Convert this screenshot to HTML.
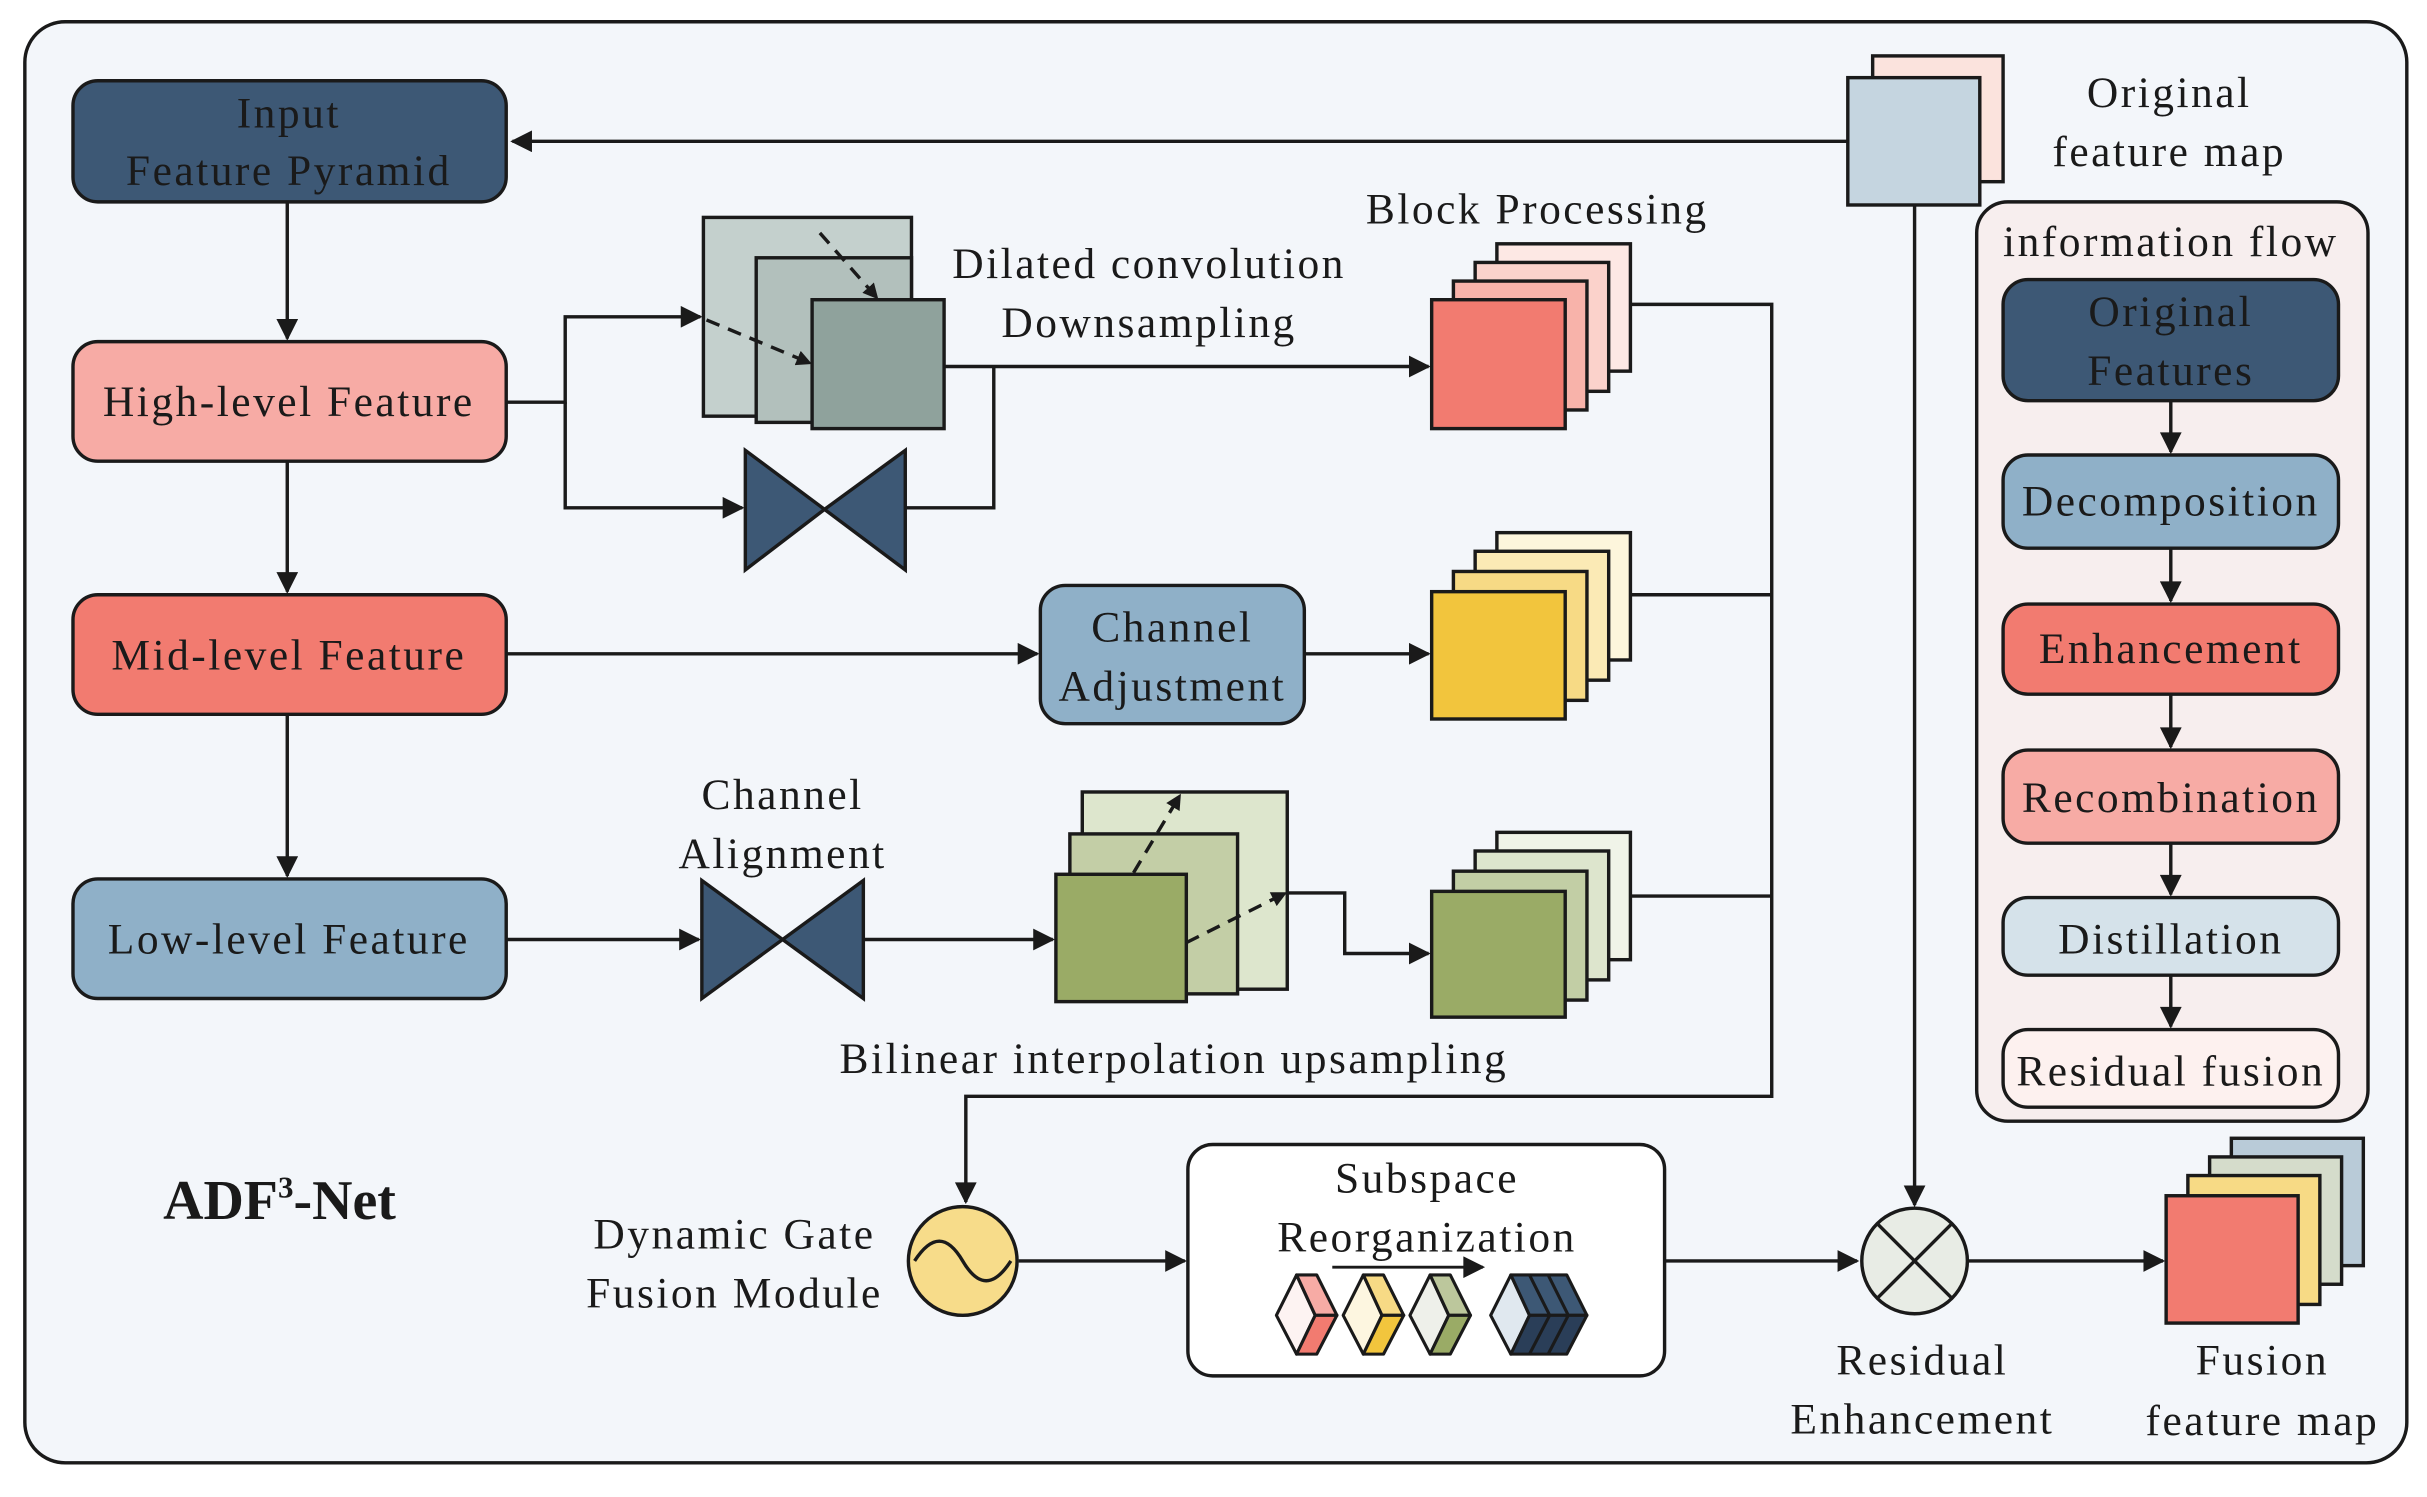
<!DOCTYPE html>
<html><head><meta charset="utf-8"><style>
html,body{margin:0;padding:0;background:#fff;}
svg{display:block;}
text{font-family:"Liberation Serif",serif;font-size:28px;letter-spacing:1.6px;fill:#1a1a1a;text-anchor:middle;}
</style></head><body>
<svg width="2427" height="1497" viewBox="0 0 1563 964" preserveAspectRatio="none" xmlns="http://www.w3.org/2000/svg">
<defs>
<marker id="a" markerWidth="10" markerHeight="10" refX="9" refY="5" orient="auto" markerUnits="userSpaceOnUse" viewBox="0 0 10 10"><path d="M0,0 L10,5 L0,10 z" fill="#1a1a1a"/></marker>
<marker id="A" viewBox="0 0 10 10" refX="9" refY="5" markerWidth="18" markerHeight="14" orient="auto" markerUnits="userSpaceOnUse"><path d="M0,0 L10,5 L0,10 z" fill="#1a1a1a"/></marker>
</defs>
<g stroke="#1a1a1a" stroke-width="2.2" fill="none">
<rect x="16" y="14" width="1534" height="928" rx="26" fill="#f3f6fa"/>
<rect x="47" y="52" width="279" height="78" rx="16" fill="#3d5875"/>
<rect x="47" y="220" width="279" height="77" rx="16" fill="#f7aba5"/>
<rect x="47" y="383" width="279" height="77" rx="16" fill="#f27b70"/>
<rect x="47" y="566" width="279" height="77" rx="16" fill="#8fb0c8"/>
<path d="M185,130 V218" marker-end="url(#A)"/>
<path d="M185,297 V381" marker-end="url(#A)"/>
<path d="M185,460 V564" marker-end="url(#A)"/>
<path d="M1190,91 H330" marker-end="url(#A)"/>
<path d="M326,259 H364 V204 H451" marker-end="url(#A)"/>
<path d="M364,259 V327 H478" marker-end="url(#A)"/>
<rect x="453" y="140" width="134" height="128" fill="#c4d0cd"/>
<rect x="487" y="166" width="100" height="106" fill="#b2c0bc"/>
<rect x="523" y="193" width="85" height="83" fill="#8fa29c"/>
<path d="M528,150 L565,192" stroke-dasharray="9,6" marker-end="url(#a)"/>
<path d="M455,206 L522,234" stroke-dasharray="9,6" marker-end="url(#a)"/>
<path d="M480,290 L531,328 L480,367 Z M583,290 L531,328 L583,367 Z" fill="#3d5875"/>
<path d="M608,236 H920" marker-end="url(#A)"/>
<path d="M583,327 H640 V236"/>
<rect x="964" y="157" width="86" height="82" fill="#fde8e4"/>
<rect x="950" y="169" width="86" height="83" fill="#fbd2cb"/>
<rect x="936" y="181" width="86" height="83" fill="#f8b3aa"/>
<rect x="922" y="193" width="86" height="83" fill="#f27b70"/>
<path d="M326,421 H668" marker-end="url(#A)"/>
<rect x="670" y="377" width="170" height="89" rx="16" fill="#8fb0c8"/>
<path d="M840,421 H920" marker-end="url(#A)"/>
<rect x="964" y="343" width="86" height="82" fill="#fdf6dc"/>
<rect x="950" y="355" width="86" height="83" fill="#fbeab5"/>
<rect x="936" y="368" width="86" height="83" fill="#f7da85"/>
<rect x="922" y="381" width="86" height="82" fill="#f2c53d"/>
<path d="M326,605 H450" marker-end="url(#A)"/>
<path d="M452,567 L504,605 L452,643 Z M556,567 L504,605 L556,643 Z" fill="#3d5875"/>
<path d="M556,605 H678" marker-end="url(#A)"/>
<rect x="697" y="510" width="132" height="127" fill="#dde6cd"/>
<rect x="689" y="537" width="108" height="103" fill="#c3cea6"/>
<rect x="680" y="563" width="84" height="82" fill="#9aab66"/>
<path d="M730,562 L760,512" stroke-dasharray="9,6" marker-end="url(#a)"/>
<path d="M764,607 L828,575" stroke-dasharray="9,6" marker-end="url(#a)"/>
<path d="M829,575 H866 V614 H920" marker-end="url(#A)"/>
<rect x="964" y="536" width="86" height="82" fill="#f0f3e8"/>
<rect x="950" y="548" width="86" height="83" fill="#dde5cd"/>
<rect x="936" y="561" width="86" height="83" fill="#c2cea5"/>
<rect x="922" y="574" width="86" height="81" fill="#9aab66"/>
<path d="M1050,196 H1141 V706 H622 V774" marker-end="url(#A)"/>
<path d="M1050,383 H1141 M1050,577 H1141"/>
<circle cx="620" cy="812" r="35" fill="#f7dc8a"/>
<path d="M589,812 C600,795 610,795 620,812 C630,829 640,829 651,812"/>
<path d="M656,812 H763" marker-end="url(#A)"/>
<rect x="765" y="737" width="307" height="149" rx="16" fill="#fff"/>
<path d="M858,816 H955" marker-end="url(#A)" stroke-width="1.8"/>
<g stroke-width="2" stroke-linejoin="round">
<g>
<path d="M822,847 L835,821 L847,847 L835,872 Z" fill="#fdf3f2"/>
<path d="M835,821 L848,821 L861,847 L847,847 Z" fill="#f7aba5"/>
<path d="M847,847 L861,847 L848,872 L835,872 Z" fill="#f27b70"/>
</g>
<g transform="translate(43,0)">
<path d="M822,847 L835,821 L847,847 L835,872 Z" fill="#fdf6e0"/>
<path d="M835,821 L848,821 L861,847 L847,847 Z" fill="#f7da85"/>
<path d="M847,847 L861,847 L848,872 L835,872 Z" fill="#f2c53d"/>
</g>
<g transform="translate(86,0)">
<path d="M822,847 L835,821 L847,847 L835,872 Z" fill="#eef0ea"/>
<path d="M835,821 L848,821 L861,847 L847,847 Z" fill="#bcc79c"/>
<path d="M847,847 L861,847 L848,872 L835,872 Z" fill="#9aab66"/>
</g>
<path d="M960,847 L973,821 L985,847 L973,872 Z" fill="#e0e8ef"/>
<path d="M973,821 L985,821 L998,847 L985,847 Z M985,821 L997,821 L1010,847 L998,847 Z M997,821 L1009,821 L1022,847 L1010,847 Z" fill="#3d5875"/>
<path d="M985,847 L998,847 L985,872 L973,872 Z M998,847 L1010,847 L997,872 L985,872 Z M1010,847 L1022,847 L1009,872 L997,872 Z" fill="#2a3e58"/>
</g>
<path d="M1072,812 H1196" marker-end="url(#A)"/>
<circle cx="1233" cy="812" r="34" fill="#e8ece5"/>
<path d="M1209,788 L1257,836 M1257,788 L1209,836"/>
<path d="M1267,812 H1393" marker-end="url(#A)"/>
<rect x="1437" y="733" width="85" height="82" fill="#b9cbd8"/>
<rect x="1423" y="745" width="85" height="82" fill="#d5dccb"/>
<rect x="1409" y="757" width="85" height="83" fill="#f7da85"/>
<rect x="1395" y="770" width="85" height="82" fill="#f27b70"/>
<rect x="1206" y="36" width="84" height="81" fill="#fbe3dd"/>
<rect x="1190" y="50" width="85" height="82" fill="#c5d5e0"/>
<path d="M1233,132 V776" marker-end="url(#A)"/>
<rect x="1273" y="130" width="252" height="592" rx="20" fill="#f7eeee"/>
<rect x="1290" y="180" width="216" height="78" rx="16" fill="#3d5875"/>
<rect x="1290" y="293" width="216" height="60" rx="16" fill="#8fb0c8"/>
<rect x="1290" y="389" width="216" height="58" rx="16" fill="#f27b70"/>
<rect x="1290" y="483" width="216" height="60" rx="16" fill="#f7aba5"/>
<rect x="1290" y="578" width="216" height="50" rx="16" fill="#d5e2ea"/>
<rect x="1290" y="663" width="216" height="50" rx="16" fill="#fdf1ef"/>
</g>
<g stroke="#1a1a1a" stroke-width="2.2">
<path d="M1398,258 V291" marker-end="url(#A)"/><path d="M1398,353 V387" marker-end="url(#A)"/><path d="M1398,447 V481" marker-end="url(#A)"/><path d="M1398,543 V576" marker-end="url(#A)"/><path d="M1398,628 V661" marker-end="url(#A)"/>
</g>
<text x="186" y="82">Input</text>
<text x="186" y="119">Feature Pyramid</text>
<text x="186" y="268">High-level Feature</text>
<text x="186" y="431">Mid-level Feature</text>
<text x="186" y="614">Low-level Feature</text>
<text x="740" y="179">Dilated convolution</text>
<text x="740" y="217">Downsampling</text>
<text x="990" y="144">Block Processing</text>
<text x="755" y="413">Channel</text>
<text x="755" y="451">Adjustment</text>
<text x="504" y="521">Channel</text>
<text x="504" y="559">Alignment</text>
<text x="756" y="691">Bilinear interpolation upsampling</text>
<text x="473" y="804">Dynamic Gate</text>
<text x="473" y="842">Fusion Module</text>
<text x="919" y="768">Subspace</text>
<text x="919" y="806">Reorganization</text>
<text x="1238" y="885">Residual</text>
<text x="1238" y="923">Enhancement</text>
<text x="1457" y="885">Fusion</text>
<text x="1457" y="924">feature map</text>
<text x="1397" y="69">Original</text>
<text x="1397" y="107">feature map</text>
<text x="1398" y="165">information flow</text>
<text x="1398" y="210">Original</text>
<text x="1398" y="248">Features</text>
<text x="1398" y="332">Decomposition</text>
<text x="1398" y="427">Enhancement</text>
<text x="1398" y="523">Recombination</text>
<text x="1398" y="614">Distillation</text>
<text x="1398" y="699">Residual fusion</text>
<text x="180" y="785" style="font-size:36px;font-weight:bold;letter-spacing:0">ADF<tspan dy="-14" style="font-size:20px">3</tspan><tspan dy="14">-Net</tspan></text>
</svg>
</body></html>
